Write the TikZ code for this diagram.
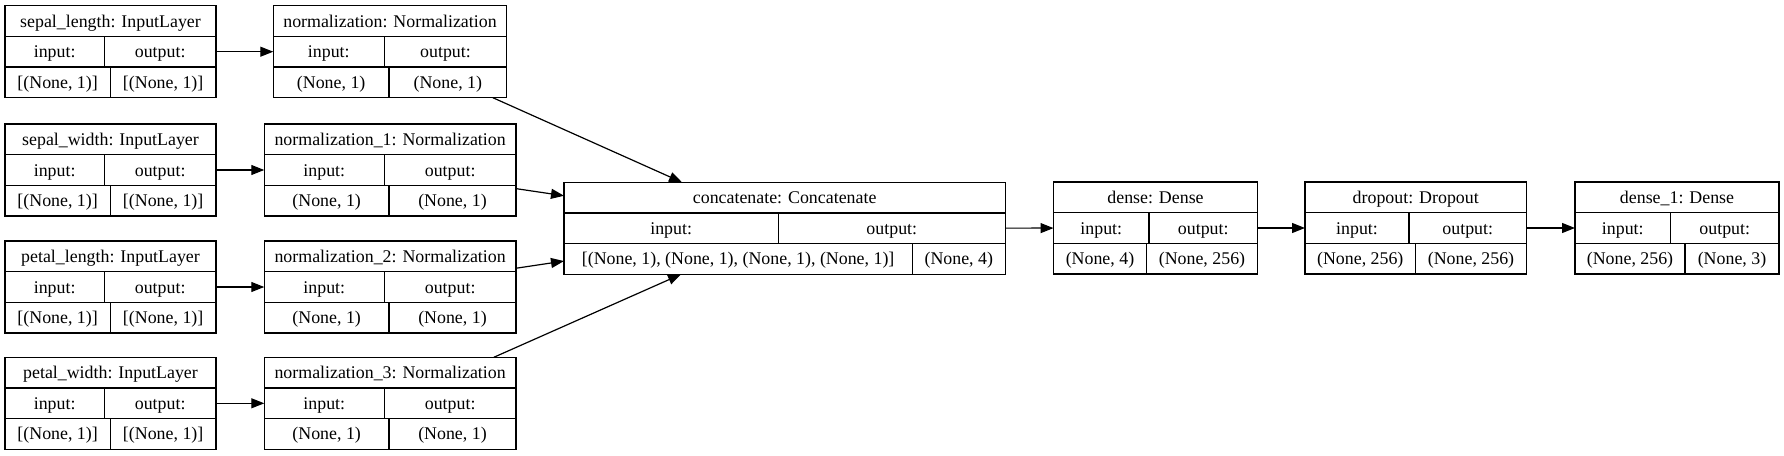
\documentclass[tikz,border=0pt]{standalone}
\usepackage{fontspec}
\setmainfont{Liberation Serif}
\usetikzlibrary{fit,arrows.meta}
\tikzset{
  box/.style={draw, line width=0.9pt, inner sep=0pt, outer sep=0pt},
  sepline/.style={draw, line width=0.9pt},
  lbl/.style={anchor=base, inner sep=0pt, font=\fontsize{13.4}{16}\selectfont},
  edge/.style={draw, line width=0.9pt, -{Triangle[length=9.75pt,width=7.5pt]}},
}
% name, x1, y1, x2, split row2, split row3, title, in shape, out shape
\newcommand{\layerbox}[9]{%
  \node[box, fit={(#2,#3) (#4,{#3+92})}] (#1) {};
  \draw[sepline] (#2,{#3+92/3}) -- (#4,{#3+92/3});
  \draw[sepline] (#2,{#3+2*92/3}) -- (#4,{#3+2*92/3});
  \draw[sepline] (#5,{#3+92/3}) -- (#5,{#3+2*92/3});
  \draw[sepline] (#6,{#3+2*92/3}) -- (#6,{#3+92});
  \node[lbl] (#1-t) at ({(#2+#4)/2},{#3+92/6+6}) {#7};
  \node[lbl] (#1-i) at ({(#2+#5)/2},{#3+92/2+6}) {input:};
  \node[lbl] (#1-o) at ({(#5+#4)/2},{#3+92/2+6}) {output:};
  \node[lbl] (#1-is) at ({(#2+#6)/2},{#3+5*92/6+6}) {#8};
  \node[lbl] (#1-os) at ({(#6+#4)/2},{#3+5*92/6+6}) {#9};
}
\begin{document}
\begin{tikzpicture}[x=0.75pt,y=-0.75pt]
\useasboundingbox (0,0) rectangle (1784,456);
\layerbox{sl}{5}{5.7}{216}{104.3}{110.3}{sepal\_length: InputLayer}{[(None, 1)]}{[(None, 1)]}
\layerbox{sw}{5}{124}{216}{104.3}{110.3}{sepal\_width: InputLayer}{[(None, 1)]}{[(None, 1)]}
\layerbox{pl}{5}{241}{216}{104.3}{110.3}{petal\_length: InputLayer}{[(None, 1)]}{[(None, 1)]}
\layerbox{pw}{5}{357.3}{216}{104.3}{110.3}{petal\_width: InputLayer}{[(None, 1)]}{[(None, 1)]}
\layerbox{n0}{273.3}{5.7}{506.7}{384.3}{389}{normalization: Normalization}{(None, 1)}{(None, 1)}
\layerbox{n1}{264.3}{124}{516}{384.3}{389}{normalization\_1: Normalization}{(None, 1)}{(None, 1)}
\layerbox{n2}{264.3}{241}{516}{384.3}{389}{normalization\_2: Normalization}{(None, 1)}{(None, 1)}
\layerbox{n3}{264.3}{357.3}{516}{384.3}{389}{normalization\_3: Normalization}{(None, 1)}{(None, 1)}
\layerbox{cat}{564}{182.3}{1005.3}{778.3}{912.3}{concatenate: Concatenate}{[(None, 1), (None, 1), (None, 1), (None, 1)]}{(None, 4)}
\layerbox{den}{1053.5}{182}{1257.5}{1149}{1146.5}{dense: Dense}{(None, 4)}{(None, 256)}
\layerbox{drp}{1305}{182}{1526.5}{1409}{1415.5}{dropout: Dropout}{(None, 256)}{(None, 256)}
\layerbox{den1}{1575}{182}{1779}{1670.5}{1685}{dense\_1: Dense}{(None, 256)}{(None, 3)}
\draw[edge] (sl) -- (n0);
\draw[edge] (sw) -- (n1);
\draw[edge] (pl) -- (n2);
\draw[edge] (pw) -- (n3);
\draw[edge] (n0) -- (cat);
\draw[edge] (n1) -- (cat);
\draw[edge] (n2) -- (cat);
\draw[edge] (n3) -- (cat);
\draw[edge] (cat) -- (den);
\draw[edge] (den) -- (drp);
\draw[edge] (drp) -- (den1);
\end{tikzpicture}
\end{document}
